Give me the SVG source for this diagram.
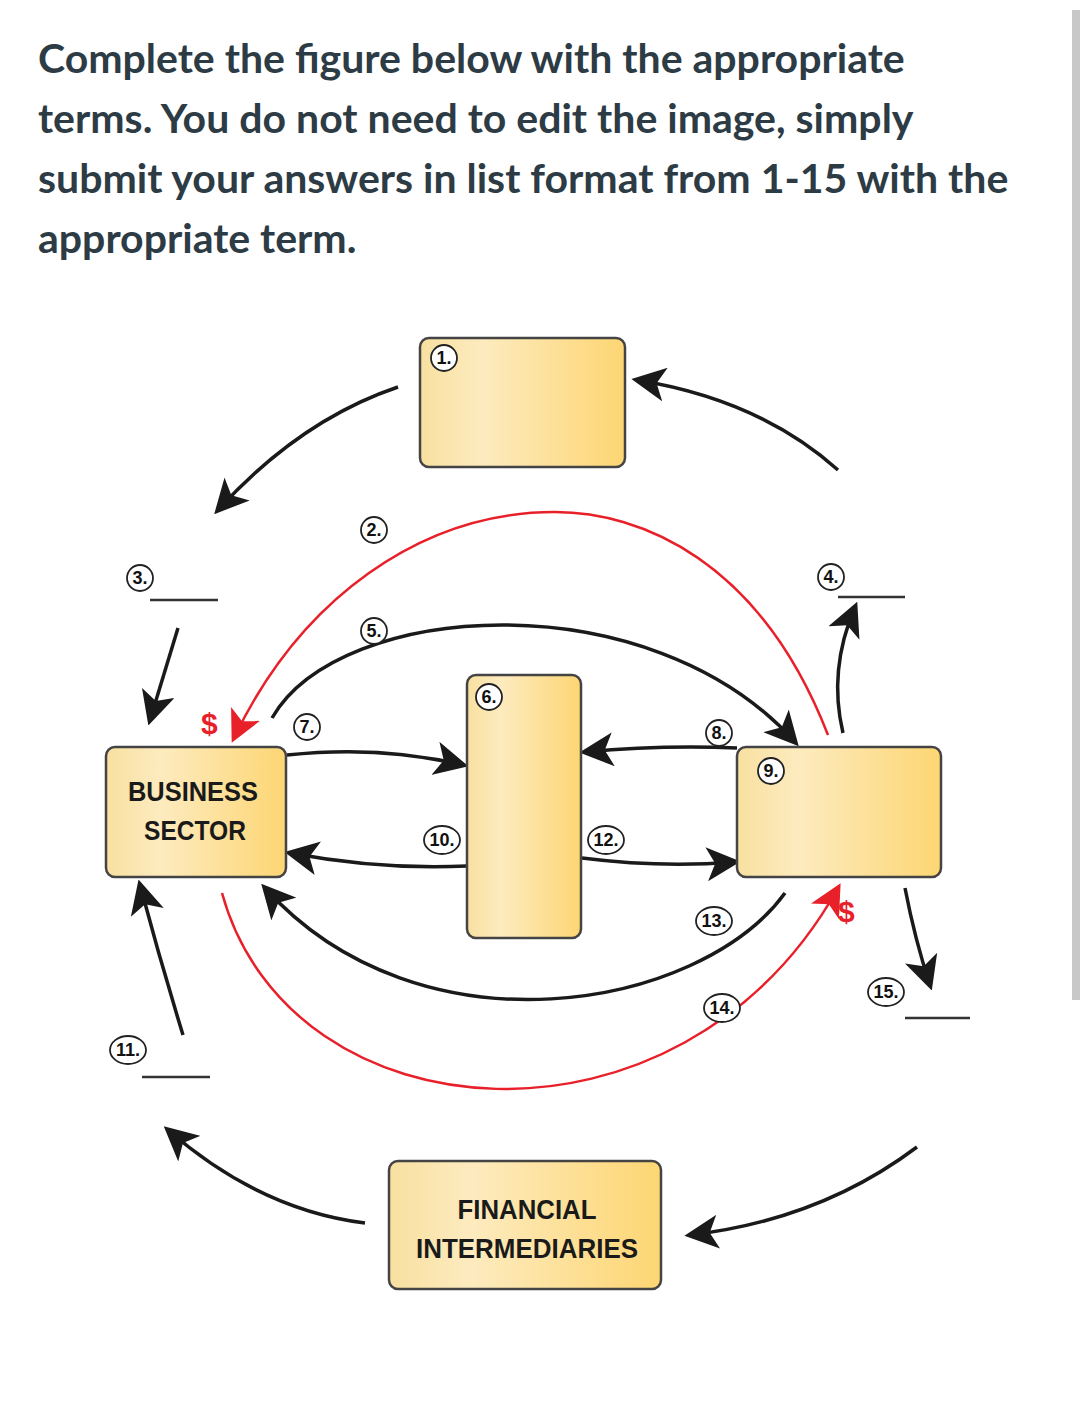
<svg xmlns="http://www.w3.org/2000/svg" width="1080" height="1407" viewBox="0 0 1080 1407">
<style>
.h{font-family:Lato,"Open Sans",sans-serif;font-weight:700;font-size:41px;fill:#2d3b45}
.box{stroke:#444;stroke-width:2.5;fill:url(#g)}
.lbl{font-family:"Liberation Sans",Arial,sans-serif;font-weight:700;font-size:28px;fill:#1a1a1a;text-anchor:middle}
.c{fill:#fff;stroke:#222;stroke-width:1.8}
.n{font-family:"Liberation Sans",Arial,sans-serif;font-weight:700;font-size:18px;fill:#111;text-anchor:middle}
.k{fill:none;stroke:#1a1a1a;stroke-width:3.5;marker-end:url(#ak)}
.r{fill:none;stroke:#e8202a;stroke-width:2.5;marker-end:url(#ar)}
.u{stroke:#333;stroke-width:2.5}
.d{font-family:"Liberation Sans",Arial,sans-serif;font-weight:700;font-size:30px;fill:#e8202a}
</style>
<defs>
<linearGradient id="g" x1="0" x2="1" y1="0" y2="0"><stop offset="0" stop-color="#f8e0a0"/><stop offset="0.3" stop-color="#fdebbf"/><stop offset="1" stop-color="#fdd673"/></linearGradient>
<marker id="ak" viewBox="0 0 12 12" refX="10" refY="6" markerWidth="34" markerHeight="34" markerUnits="userSpaceOnUse" orient="auto"><path d="M0,0 L12,6 L0,12 L3,6z" fill="#1a1a1a"/></marker>
<marker id="ar" viewBox="0 0 12 12" refX="10" refY="6" markerWidth="32" markerHeight="32" markerUnits="userSpaceOnUse" orient="auto"><path d="M0,0 L12,6 L0,12 L3,6z" fill="#e8202a"/></marker>
</defs>
<rect width="1080" height="1407" fill="#fff"/>
<rect x="1072" y="10" width="8" height="990" fill="#c8c8c8"/>
<text class="h" x="38" y="73">Complete the figure below with the appropriate</text>
<text class="h" x="38" y="133">terms. You do not need to edit the image, simply</text>
<text class="h" x="38" y="193">submit your answers in list format from 1-15 with the</text>
<text class="h" x="38" y="253">appropriate term.</text>
<g id="connectors">
<path class="k" d="M398,387 Q300,420 218,510"/>
<path class="k" d="M838,470 Q760,400 637,380"/>
<path class="r" d="M828,735 C760,560 640,512 555,512 C420,512 300,600 234,738"/>
<path class="k" d="M272,718 C340,600 650,580 795,742"/>
<path class="k" d="M178,628 L150,720"/>
<path class="k" d="M843,733 Q828,670 855,607"/>
<path class="k" d="M287,755 Q380,745 463,765"/>
<path class="k" d="M737,748 Q660,745 585,752"/>
<path class="k" d="M467,866 Q380,870 290,853"/>
<path class="k" d="M582,858 Q660,868 735,862"/>
<path class="k" d="M785,893 C700,1010 420,1060 265,888"/>
<path class="r" d="M222,893 C290,1140 680,1170 838,888"/>
<path class="k" d="M183,1035 Q160,960 140,885"/>
<path class="k" d="M905,888 Q915,940 930,985"/>
<path class="k" d="M365,1223 Q260,1210 168,1130"/>
<path class="k" d="M917,1147 Q820,1220 690,1235"/>
<line class="u" x1="150" y1="600" x2="218" y2="600"/>
<line class="u" x1="838" y1="597" x2="905" y2="597"/>
<line class="u" x1="142" y1="1077" x2="210" y2="1077"/>
<line class="u" x1="905" y1="1018" x2="970" y2="1018"/>
<text class="d" x="201" y="734">$</text>
<text class="d" x="838" y="922">$</text>
</g>
<g id="n1"><rect class="box" x="420" y="338" width="205" height="129" rx="9"/><circle class="c" cx="444" cy="358" r="13"/><text class="n" x="444" y="364">1.</text></g>
<g id="n6"><rect class="box" x="467" y="675" width="114" height="263" rx="9"/><circle class="c" cx="489" cy="697" r="13"/><text class="n" x="489" y="703">6.</text></g>
<g id="n9"><rect class="box" x="737" y="747" width="204" height="130" rx="9"/><circle class="c" cx="771" cy="771" r="13"/><text class="n" x="771" y="777">9.</text></g>
<g id="business"><rect class="box" x="106" y="747" width="180" height="130" rx="9"/><text class="lbl" x="193" y="801" textLength="130" lengthAdjust="spacingAndGlyphs">BUSINESS</text><text class="lbl" x="195" y="840" textLength="102" lengthAdjust="spacingAndGlyphs">SECTOR</text></g>
<g id="financial"><rect class="box" x="389" y="1161" width="272" height="128" rx="9"/><text class="lbl" x="527" y="1219" textLength="139" lengthAdjust="spacingAndGlyphs">FINANCIAL</text><text class="lbl" x="527" y="1258" textLength="222" lengthAdjust="spacingAndGlyphs">INTERMEDIARIES</text></g>
<g id="labels">
<circle class="c" cx="140" cy="578" r="13"/><text class="n" x="140" y="584">3.</text>
<circle class="c" cx="831" cy="577" r="13"/><text class="n" x="831" y="583">4.</text>
<circle class="c" cx="374" cy="530" r="13"/><text class="n" x="374" y="536">2.</text>
<circle class="c" cx="374" cy="631" r="13"/><text class="n" x="374" y="637">5.</text>
<circle class="c" cx="307" cy="727" r="13"/><text class="n" x="307" y="733">7.</text>
<circle class="c" cx="719" cy="733" r="13"/><text class="n" x="719" y="739">8.</text>
<ellipse class="c" cx="442" cy="840" rx="18" ry="14"/><text class="n" x="442" y="846">10.</text>
<ellipse class="c" cx="606" cy="840" rx="18" ry="14"/><text class="n" x="606" y="846">12.</text>
<ellipse class="c" cx="714" cy="921" rx="18" ry="14"/><text class="n" x="714" y="927">13.</text>
<ellipse class="c" cx="722" cy="1008" rx="18" ry="14"/><text class="n" x="722" y="1014">14.</text>
<ellipse class="c" cx="886" cy="992" rx="18" ry="14"/><text class="n" x="886" y="998">15.</text>
<ellipse class="c" cx="128" cy="1050" rx="18" ry="14"/><text class="n" x="128" y="1056">11.</text>
</g>
</svg>
